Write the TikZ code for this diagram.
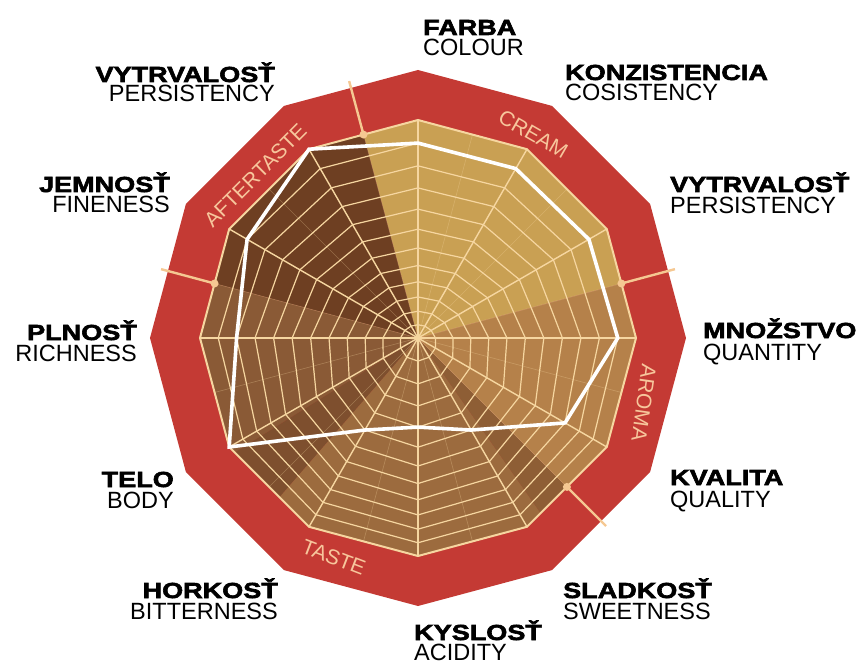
\documentclass[tikz,border=0pt]{standalone}
\usepackage{fontspec}
\setmainfont{Liberation Sans}
\newfontfamily\blackfont[FakeStretch=1.24,FakeBold=2.8]{Liberation Sans Bold}
\definecolor{redband}{RGB}{196,58,52}
\definecolor{creamc}{RGB}{201,160,83}
\definecolor{aromac}{RGB}{181,129,74}
\definecolor{tastec}{RGB}{156,107,62}
\definecolor{bandA}{RGB}{142,94,53}
\definecolor{bandB}{RGB}{126,79,46}
\definecolor{tasteL}{RGB}{138,90,54}
\definecolor{afterc}{RGB}{110,63,34}
\definecolor{gridc}{RGB}{246,214,160}
\definecolor{catc}{RGB}{247,198,156}
\definecolor{tickc}{RGB}{245,200,146}
\begin{document}
\begin{tikzpicture}[x=1pt,y=1pt,
  gridline/.style={draw=gridc, line width=1.2pt},
  spokeline/.style={draw=gridc, line width=1.4pt},
  faintline/.style={draw=gridc, line width=0.6pt, opacity=0.3},
  outline/.style={draw=gridc, line width=2pt, line join=miter},
  dataline/.style={draw=white, line width=3.6pt, line join=miter},
  tickline/.style={draw=tickc, line width=2.4pt},
  tickdot/.style={fill=tickc},
  catlab/.style={text=catc, font=\fontsize{21}{22}\selectfont, inner sep=0pt},
  boldlab/.style={font=\blackfont\fontsize{21.8}{22}\selectfont, inner sep=0pt, text=black},
  reglab/.style={font=\fontsize{23.5}{24}\selectfont, inner sep=0pt, text=black}]
\useasboundingbox (-418,-326) rectangle (441,338);

% outer red dodecagon
\fill[redband] (0:268) \foreach \a in {30,60,...,330}{ -- (\a:268)} -- cycle;

% sector fills clipped to the tan dodecagon
\begin{scope}
  \clip (0:218) \foreach \a in {30,60,...,330}{ -- (\a:218)} -- cycle;
  \fill[creamc] (0,0) -- (15:400) arc[start angle=15,end angle=105,radius=400] -- cycle;
  \fill[afterc] (0,0) -- (105:400) arc[start angle=105,end angle=165,radius=400] -- cycle;
  \fill[tasteL] (0,0) -- (165:400) arc[start angle=165,end angle=212,radius=400] -- cycle;
  \fill[bandB] (0,0) -- (212:400) arc[start angle=212,end angle=229,radius=400] -- cycle;
  \fill[tastec] (0,0) -- (229:400) arc[start angle=229,end angle=305,radius=400] -- cycle;
  \fill[bandA] (0,0) -- (305:400) arc[start angle=305,end angle=315,radius=400] -- cycle;
  \fill[aromac] (0,0) -- (315:400) arc[start angle=315,end angle=375,radius=400] -- cycle;
  % faint intermediate spokes
  \foreach \a in {15,45,...,345}{ \draw[faintline] (0,0) -- (\a:218); }
\end{scope}

% ring vertices (perspective-shifted rings)
\foreach \k in {1,...,11}{
  \pgfmathsetmacro\rrr{2.18*\k/12}
  \pgfmathsetmacro\ooo{0.19*sin(15*\k)}
  \foreach \t in {0,30,...,330}{
    \pgfmathsetmacro\myrho{100*(-\ooo*sin(\t)+sqrt(\rrr*\rrr-\ooo*\ooo*cos(\t)*cos(\t)))}
    \coordinate (p-\k-\t) at (\t:\myrho);
  }
}
\foreach \k in {1,...,11}{
  \draw[gridline] (p-\k-0) \foreach \t in {30,60,...,330}{ -- (p-\k-\t)} -- cycle;
}
% main spokes
\coordinate (hub) at (0,0);
\foreach \t in {0,30,...,330}{
  \coordinate (o-\t) at (\t:218);
  \draw[spokeline] (hub) -- (o-\t);
}
\draw[outline] (o-0) \foreach \t in {30,60,...,330}{ -- (o-\t)} -- cycle;
\fill[gridc] (hub) circle[radius=2.5];

% data polyline
\foreach \t/\v in {0/11,30/11,60/11,90/11,120/12,150/11,180/10,210/12,240/5,270/4,300/5,330/9}{
  \pgfmathsetmacro\rrr{2.18*\v/12}
  \pgfmathsetmacro\ooo{0.19*sin(15*\v)}
  \pgfmathsetmacro\myrho{100*(-\ooo*sin(\t)+sqrt(\rrr*\rrr-\ooo*\ooo*cos(\t)*cos(\t)))}
  \coordinate (d-\t) at (\t:\myrho);
}
\draw[dataline] (d-0) \foreach \t in {30,60,...,330}{ -- (d-\t)} -- cycle;

% category ticks
\foreach \a in {15,105,165,315}{
  \coordinate (ta-\a) at (\a:210.6);
  \coordinate (tb-\a) at (\a:266);
  \draw[tickline] (ta-\a) -- (tb-\a);
  \fill[tickdot] (ta-\a) circle[radius=4];
}

% category labels
\node[catlab, rotate=-30] (cream) at (60.5:234) {CREAM};
\node[catlab, rotate=45] (aftertaste) at (135:230) {AFTERTASTE};
\node[catlab, rotate=-98] (aroma) at (-16:235) {AROMA};
\node[catlab, rotate=-21] (taste) at (-111:235) {TASTE};

% axis labels
\node[boldlab, anchor=base west] (l1b) at (5,303) {FARBA};
\node[reglab, anchor=base west] (l1r) at (5,282) {COLOUR};
\node[boldlab, anchor=base west] (l2b) at (147,258) {KONZISTENCIA};
\node[reglab, anchor=base west] (l2r) at (147,237) {COSISTENCY};
\node[boldlab, anchor=base west] (l3b) at (252,146) {VYTRVALOSŤ};
\node[reglab, anchor=base west] (l3r) at (252,124) {PERSISTENCY};
\node[boldlab, anchor=base west] (l4b) at (285,0) {MNOŽSTVO};
\node[reglab, anchor=base west] (l4r) at (285,-22) {QUANTITY};
\node[boldlab, anchor=base west] (l5b) at (252,-147) {KVALITA};
\node[reglab, anchor=base west] (l5r) at (252,-169) {QUALITY};
\node[boldlab, anchor=base west] (l6b) at (145,-260) {SLADKOSŤ};
\node[reglab, anchor=base west] (l6r) at (145,-281) {SWEETNESS};
\node[boldlab, anchor=base west] (l7b) at (-4,-302) {KYSLOSŤ};
\node[reglab, anchor=base west] (l7r) at (-4,-322) {ACIDITY};
\node[boldlab, anchor=base east] (l8b) at (-140,-260) {HORKOSŤ};
\node[reglab, anchor=base east] (l8r) at (-140,-281) {BITTERNESS};
\node[boldlab, anchor=base east] (l9b) at (-244,-149) {TELO};
\node[reglab, anchor=base east] (l9r) at (-244,-170) {BODY};
\node[boldlab, anchor=base east] (l10b) at (-281,-2) {PLNOSŤ};
\node[reglab, anchor=base east] (l10r) at (-281,-23) {RICHNESS};
\node[boldlab, anchor=base east] (l11b) at (-248,146) {JEMNOSŤ};
\node[reglab, anchor=base east] (l11r) at (-248,125) {FINENESS};
\node[boldlab, anchor=base east] (l12b) at (-143,256) {VYTRVALOSŤ};
\node[reglab, anchor=base east] (l12r) at (-143,236) {PERSISTENCY};
\end{tikzpicture}
\end{document}
